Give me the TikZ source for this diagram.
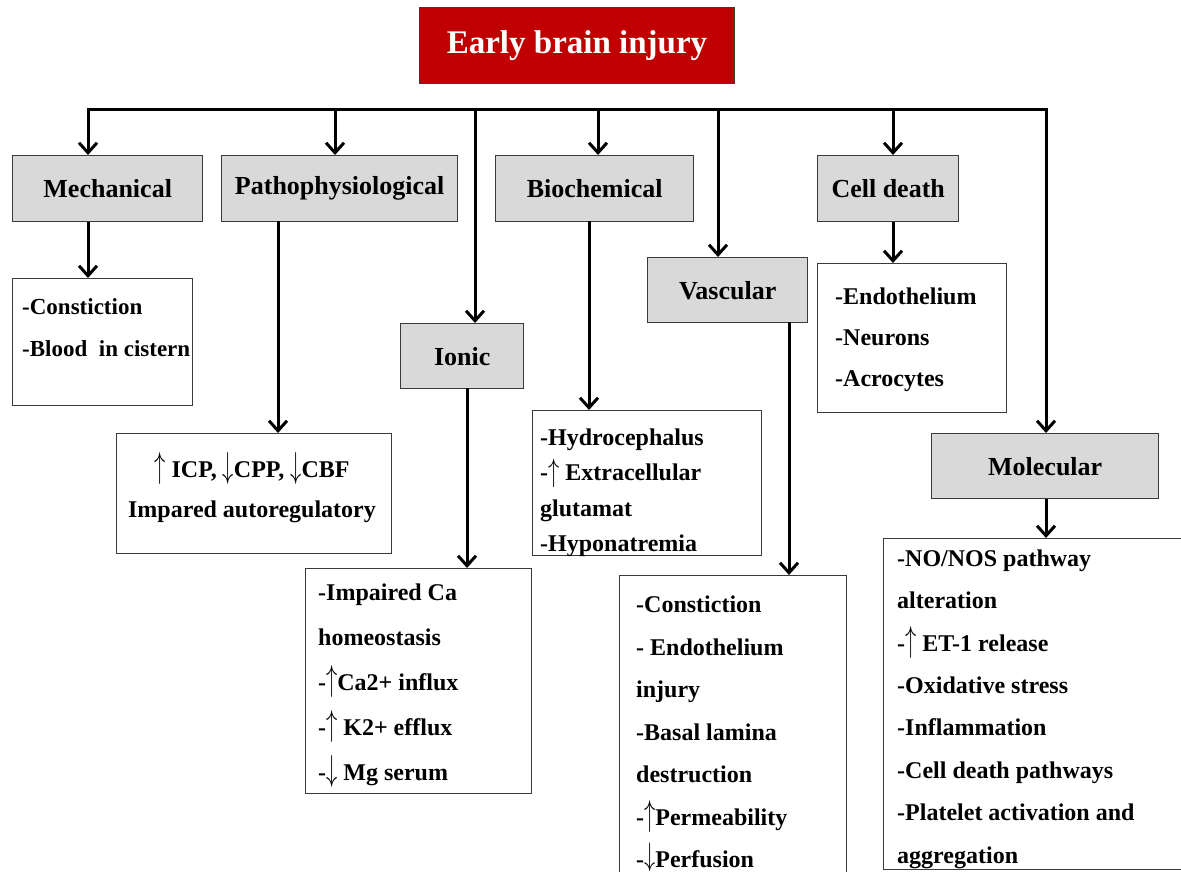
\documentclass[tikz,border=0pt]{standalone}
\usepackage{fontspec}
\usepackage{graphicx}
\setmainfont{Liberation Serif}
\usetikzlibrary{arrows.meta}
\definecolor{titlered}{HTML}{C00000}
\definecolor{boxgray}{HTML}{D9D9D9}
\definecolor{edgegray}{HTML}{3A3A3A}
\newcommand\upar{\scalebox{0.9}[1.45]{$\uparrow$}}
\newcommand\dnar{\scalebox{0.9}[1.45]{$\downarrow$}}
\newcommand\uparsm{\raisebox{-1pt}{\scalebox{0.9}[1.3]{$\uparrow$}}}
\newcommand\dnarsm{\raisebox{2pt}{\scalebox{0.9}[1.3]{$\downarrow$}}}
\tikzset{
  titlebox/.style={draw=edgegray, fill=titlered, text=white, font=\fontsize{33}{38}\selectfont\bfseries,
    minimum width=315pt, minimum height=76pt, anchor=north west, inner sep=0pt, line width=1pt},
  head/.style={draw=edgegray, fill=boxgray, font=\fontsize{26}{30}\selectfont\bfseries,
    anchor=north west, inner sep=0pt, line width=1.4pt},
  listbox/.style={draw=edgegray, fill=white, anchor=north west, inner sep=0pt, line width=1.2pt},
  txt/.style={anchor=west, align=left, inner sep=0pt},
  arr/.style={line width=3pt, -{Straight Barb[length=10pt,width=18pt]}},
  busline/.style={line width=3pt}
}
\begin{document}
\begin{tikzpicture}[x=1pt,y=-1pt]
\useasboundingbox (0,0) rectangle (1181,872);
\fill[white] (0,0) rectangle (1181,872);

\node[titlebox] (title) at (419,7) {Early brain injury};

\node[head, minimum width=190pt, minimum height=66pt] (mech) at (12,155) {Mechanical};
\node[head, minimum width=236pt, minimum height=66pt] (patho) at (221,155) {Pathophysiological};
\node[head, minimum width=198pt, minimum height=66pt] (bio) at (495,155) {Biochemical};
\node[head, minimum width=141pt, minimum height=66pt] (cell) at (817,155) {Cell death};
\node[head, minimum width=123pt, minimum height=65pt] (ionic) at (400,323) {Ionic};
\node[head, minimum width=160pt, minimum height=65pt] (vasc) at (647,257) {Vascular};
\node[head, minimum width=227pt, minimum height=65pt] (mol) at (931,433) {Molecular};

\node[listbox, minimum width=180pt, minimum height=127pt] (mechL) at (12,278) {};
\node[listbox, minimum width=275pt, minimum height=120pt] (pathoL) at (116,433) {};
\node[listbox, minimum width=226pt, minimum height=225pt] (ionicL) at (305,568) {};
\node[listbox, minimum width=229pt, minimum height=145pt] (bioL) at (532,410) {};
\node[listbox, minimum width=227pt, minimum height=320pt] (vascL) at (619,575) {};
\node[listbox, minimum width=189pt, minimum height=149pt] (cellL) at (817,263) {};
\node[listbox, minimum width=310pt, minimum height=331pt] (molL) at (883,538) {};

\node[txt, font=\fontsize{23}{42}\selectfont\bfseries] (mechT) at (22,328)
  {-Constiction\\-Blood\ \ in cistern};
\node[anchor=center, align=center, inner sep=0pt, font=\fontsize{24}{40}\selectfont\bfseries] (pathoT) at (252,488)
  {\upar\ ICP, \dnar CPP, \dnar CBF\\Impared autoregulatory};
\node[txt, font=\fontsize{24}{45}\selectfont\bfseries] (ionicT) at (318,686)
  {-Impaired Ca\\homeostasis\\-\upar Ca2+ influx\\-\upar\ K2+ efflux\\-\dnar\ Mg serum};
\node[txt, font=\fontsize{24}{35.5}\selectfont\bfseries] (bioT) at (540,493)
  {-Hydrocephalus\\-\uparsm\ Extracellular\\glutamat\\-Hyponatremia};
\node[txt, font=\fontsize{24}{42.5}\selectfont\bfseries] (vascT) at (636,734)
  {-Constiction\\- Endothelium\\injury\\-Basal lamina\\destruction\\-\upar Permeability\\-\dnarsm Perfusion};
\node[txt, font=\fontsize{24}{41}\selectfont\bfseries] (cellT) at (835,340)
  {-Endothelium\\-Neurons\\-Acrocytes};
\node[txt, font=\fontsize{24}{42.4}\selectfont\bfseries] (molT) at (897,709)
  {-NO/NOS pathway\\alteration\\-\upar\ ET-1 release\\-Oxidative stress\\-Inflammation\\-Cell death pathways\\-Platelet activation and\\aggregation};

\coordinate (b1) at (88,110);
\coordinate (b2) at (335,110);
\coordinate (b3) at (475,110);
\coordinate (b4) at (598,110);
\coordinate (b5) at (718,110);
\coordinate (b6) at (893,110);
\coordinate (b7) at (1046,110);

\draw[arr] (b7) -- (b1) -- (b1 |- mech.north);
\draw[arr] (b1) -- (b7) -- (b7 |- mol.north);
\draw[arr] (b2) -- (b2 |- patho.north);
\draw[arr] (b3) -- (b3 |- ionic.north);
\draw[arr] (b4) -- (b4 |- bio.north);
\draw[arr] (b5) -- (b5 |- vasc.north);
\draw[arr] (b6) -- (b6 |- cell.north);

\coordinate (pO) at (278,221);
\coordinate (iO) at (467,388);
\coordinate (bO) at (589,221);
\coordinate (vO) at (789,322);

\draw[arr] (b1 |- mech.south) -- (b1 |- mechL.north);
\draw[arr] (pO) -- (pO |- pathoL.north);
\draw[arr] (iO) -- (iO |- ionicL.north);
\draw[arr] (bO) -- (bO |- bioL.north);
\draw[arr] (vO) -- (vO |- vascL.north);
\draw[arr] (b6 |- cell.south) -- (b6 |- cellL.north);
\draw[arr] (b7 |- mol.south) -- (b7 |- molL.north);
\end{tikzpicture}
\end{document}
